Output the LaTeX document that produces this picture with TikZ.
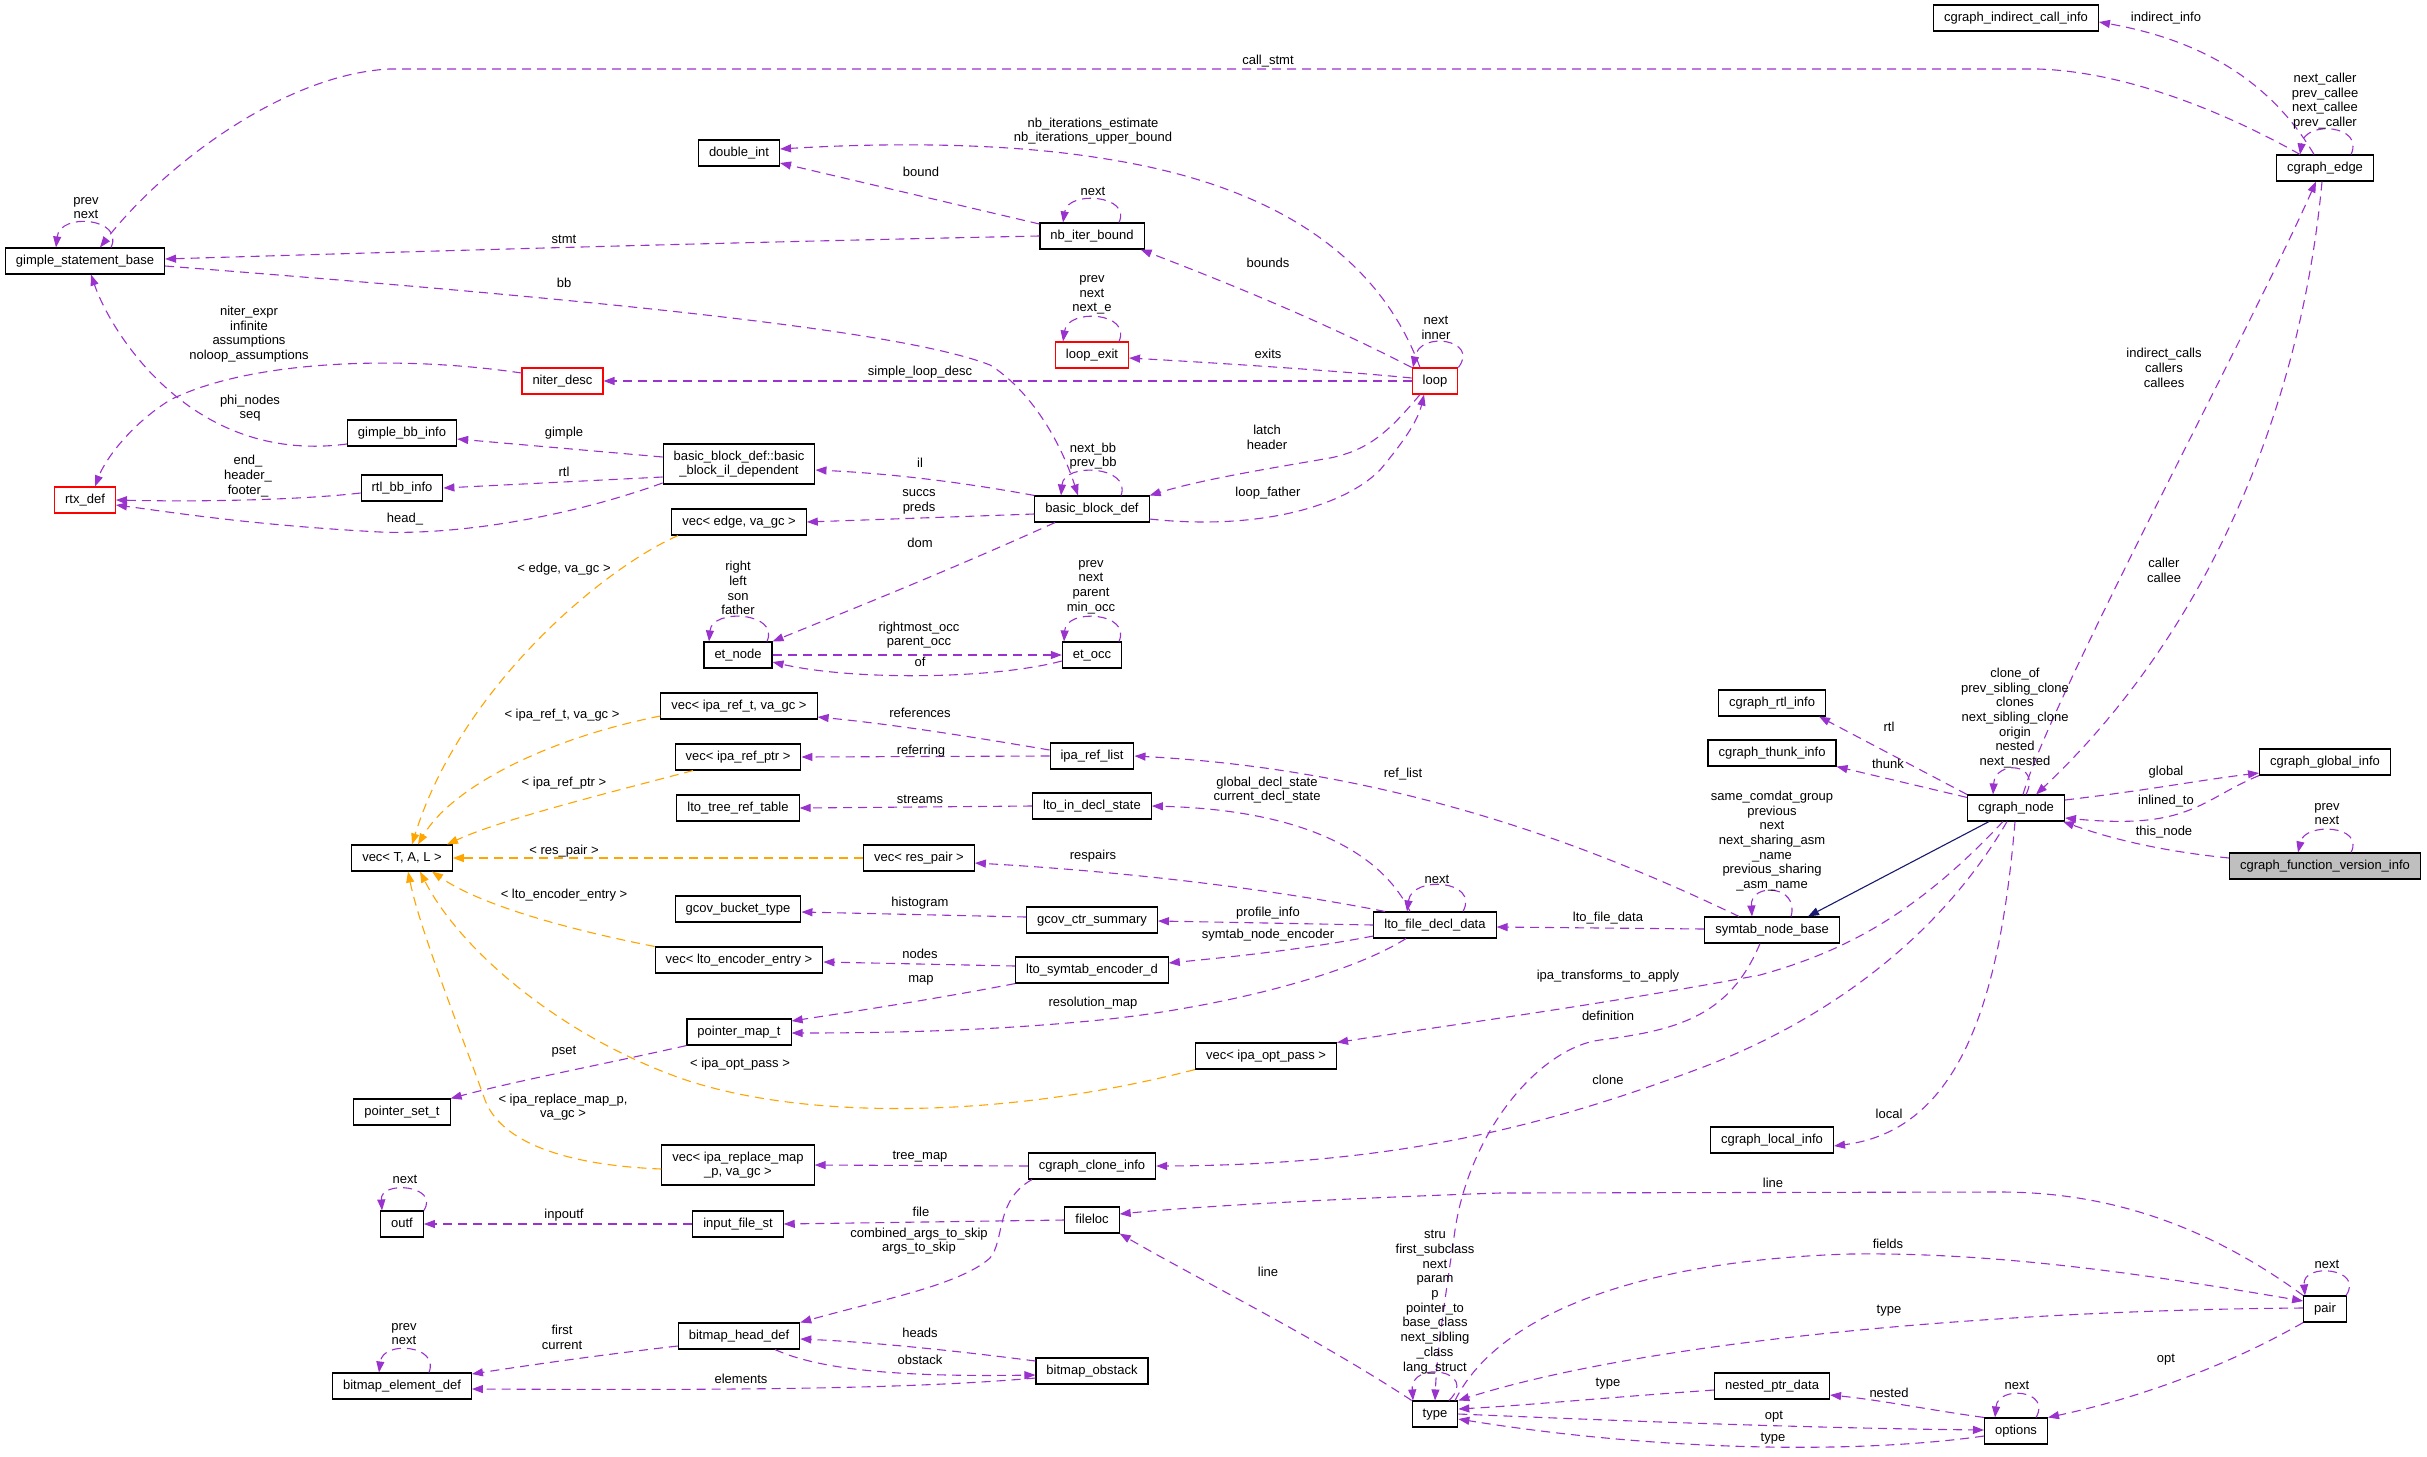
\documentclass[tikz,border=0pt]{standalone}
\usepackage{fontspec}
\setmainfont{Liberation Sans}
\usetikzlibrary{arrows.meta}
\definecolor{edgepurple}{HTML}{9A32CD}
\definecolor{tmplorange}{HTML}{FFA500}
\definecolor{inhblue}{HTML}{191970}
\definecolor{mainfill}{HTML}{BFBFBF}
\newcommand\dxf{\fontsize{13}{14.7}\selectfont}
\begin{document}
\begin{tikzpicture}[x=1pt,y=-1pt,
  cls/.style={draw=black, line width=1.1pt, fill=white, font=\dxf, inner xsep=10.5pt, inner ysep=0pt, minimum height=26pt, text height=9.5pt, text depth=3pt},
  clstwo/.style={draw=black, line width=1.1pt, fill=white, font=\dxf, inner xsep=10.5pt, inner ysep=3pt, minimum height=40pt, align=center},
  redcls/.style={cls, draw=red},
  maincls/.style={cls, fill=mainfill},
  lbl/.style={font=\dxf, align=center, inner sep=0pt},
  refe/.style={draw=edgepurple, line width=1.1pt, dash pattern=on 9pt off 6pt, -{Triangle[length=11pt,width=8pt]}},
  tmpl/.style={refe, draw=tmplorange},
  inh/.style={draw=inhblue, line width=1.1pt, -{Triangle[length=11pt,width=8pt]}}]
\fill[white] (0,0) rectangle (2427,1456);
\useasboundingbox (0,0) rectangle (2427,1456);

% ---------- nodes ----------
\node[cls] (gsb) at (85,261) {gimple\_statement\_base};
\node[redcls] (niter) at (562.5,381) {niter\_desc};
\node[cls] (gbbinfo) at (402,433) {gimple\_bb\_info};
\node[cls] (rtlbb) at (402,488) {rtl\_bb\_info};
\node[redcls] (rtx) at (85,500) {rtx\_def};
\node[cls] (vecT) at (402,858) {vec< T, A, L >};
\node[cls] (dint) at (739,153) {double\_int};
\node[cls] (nbib) at (1092,236) {nb\_iter\_bound};
\node[redcls] (lexit) at (1092,355) {loop\_exit};
\node[clstwo] (bbil) at (739,464) {basic\_block\_def::basic\\\_block\_il\_dependent};
\node[redcls] (loop) at (1435,381) {loop};
\node[cls] (cgici) at (2016,18) {cgraph\_indirect\_call\_info};
\node[cls] (cgedge) at (2325,168) {cgraph\_edge};
\node[cls] (bbdef) at (1092,509) {basic\_block\_def};
\node[cls] (vecedge) at (739,522) {vec< edge, va\_gc >};
\node[cls] (etnode) at (738,655) {et\_node};
\node[cls] (etocc) at (1092,655) {et\_occ};
\node[cls] (vecreft) at (739,706) {vec< ipa\_ref\_t, va\_gc >};
\node[cls] (reflist) at (1092,756) {ipa\_ref\_list};
\node[cls] (vecrefp) at (738,757) {vec< ipa\_ref\_ptr >};
\node[cls] (ltotree) at (738,808) {lto\_tree\_ref\_table};
\node[cls] (ltoin) at (1092,806) {lto\_in\_decl\_state};
\node[cls] (vecres) at (919,858) {vec< res\_pair >};
\node[cls] (gcovb) at (738,909) {gcov\_bucket\_type};
\node[cls] (gcovs) at (1092,920) {gcov\_ctr\_summary};
\node[cls] (veclto) at (739,960) {vec< lto\_encoder\_entry >};
\node[cls] (ltoenc) at (1092,970) {lto\_symtab\_encoder\_d};
\node[cls] (pmap) at (739,1032) {pointer\_map\_t};
\node[clstwo] (vecrepl) at (738,1165) {vec< ipa\_replace\_map\\\_p, va\_gc >};
\node[cls] (clone) at (1092,1166) {cgraph\_clone\_info};
\node[cls] (ifile) at (738,1224) {input\_file\_st};
\node[cls] (floc) at (1092,1220) {fileloc};
\node[cls] (bhead) at (739,1336) {bitmap\_head\_def};
\node[cls] (bobst) at (1092,1371) {bitmap\_obstack};
\node[cls] (lfdd) at (1435,925) {lto\_file\_decl\_data};
\node[cls] (snb) at (1772,930) {symtab\_node\_base};
\node[cls] (cgrtl) at (1772,703) {cgraph\_rtl\_info};
\node[cls] (cgthunk) at (1772,753) {cgraph\_thunk\_info};
\node[cls] (cgnode) at (2016,808) {cgraph\_node};
\node[cls] (cgglobal) at (2325,762) {cgraph\_global\_info};
\node[maincls] (cgfvi) at (2325,866) {cgraph\_function\_version\_info};
\node[cls] (pset) at (402,1112) {pointer\_set\_t};
\node[cls] (outf) at (402,1224) {outf};
\node[cls] (belem) at (402,1386) {bitmap\_element\_def};
\node[cls] (vecopt) at (1266,1056) {vec< ipa\_opt\_pass >};
\node[cls] (type) at (1435,1414) {type};
\node[cls] (nested) at (1772,1386) {nested\_ptr\_data};
\node[cls] (cglocal) at (1772,1140) {cgraph\_local\_info};
\node[cls] (pair) at (2325,1309) {pair};
\node[cls] (options) at (2016,1431) {options};

% ---------- purple edges ----------
\draw[refe] ([xshift=-25pt]cgedge.north) .. controls (2230,115) and (2130,72) .. (2038,69) -- (389,69) .. controls (280,75) and (160,170) .. ([xshift=15pt]gsb.north);
\draw[refe] ([xshift=26pt]cgedge.north) .. controls (2365,125) and (2305,120) .. ([xshift=-25pt]cgedge.north);
\draw[refe] ([xshift=-11pt]cgedge.north) .. controls (2270,80) and (2200,40) .. ([yshift=-4pt]cgici.east);
\draw[refe] ([xshift=7pt]cgnode.north) .. controls (2050,700) and (2250,330) .. ([xshift=-9pt]cgedge.south);
\draw[refe] ([xshift=-3pt]cgedge.south) .. controls (2300,420) and (2200,640) .. ([xshift=20pt]cgnode.north);
\draw[refe] ([xshift=10pt]cgnode.north) .. controls (2042,762) and (1995,760) .. ([xshift=-23pt]cgnode.north);
\draw[refe] (cgnode.north west) -- ([xshift=-7pt]cgrtl.south east);
\draw[refe] ([yshift=-3pt]cgnode.north west) -- (cgthunk.south east);
\draw[refe] ([yshift=8pt]cgnode.east) .. controls (2150,790) and (2200,780) .. ([yshift=-11pt]cgglobal.west);
\draw[refe] (cgglobal.south west) .. controls (2200,800) and (2190,830) .. ([yshift=-10pt]cgnode.east);
\draw[refe] ([yshift=8pt]cgfvi.west) .. controls (2150,850) and (2100,835) .. ([xshift=-2pt]cgnode.south east);
\draw[refe] ([xshift=26pt]cgfvi.north) .. controls (2365,825) and (2305,822) .. ([xshift=-27pt]cgfvi.north);
\draw[inh] ([xshift=-27pt]cgnode.south) -- ([xshift=36pt]snb.north);
\draw[refe] ([xshift=-13pt]cgnode.south) .. controls (1920,910) and (1850,950) .. (1760,975) .. controls (1600,1005) and (1450,1025) .. (vecopt.north east);
\draw[refe] ([xshift=-9pt]cgnode.south) .. controls (1950,920) and (1850,1010) .. (1706,1066) .. controls (1550,1125) and (1400,1165) .. (clone.east);
\draw[refe] ([xshift=-1pt]cgnode.south) .. controls (2000,1000) and (1960,1130) .. ([yshift=-6pt]cglocal.east);
\draw[refe] ([yshift=1pt]snb.west) -- ([yshift=-2pt]lfdd.east);
\draw[refe] ([xshift=-33pt]snb.north) .. controls (1600,850) and (1400,770) .. (reflist.east);
\draw[refe] ([xshift=19pt]snb.north) .. controls (1800,885) and (1750,882) .. ([xshift=-20pt]snb.north);
\draw[refe] ([xshift=-12pt]snb.south) .. controls (1730,1015) and (1680,1030) .. (1600,1040) .. controls (1540,1048) and (1470,1130) .. (1455,1230) .. controls (1445,1300) and (1437,1350) .. (type.north);

\draw[refe] ([xshift=26pt]gsb.north) .. controls (125,218) and (60,212) .. ([xshift=-29pt]gsb.north);
\draw[refe] (nbib.west) .. controls (700,243) and (400,252) .. ([yshift=2pt]gsb.east);
\draw[refe] ([yshift=-5pt]gsb.east) .. controls (600,300) and (900,330) .. (990,365) .. controls (1030,390) and (1060,440) .. ([xshift=-14pt]bbdef.north);
\draw[refe] ([xshift=29pt]bbdef.north) .. controls (1132,466) and (1064,462) .. ([xshift=-31pt]bbdef.north);
\draw[refe] ([yshift=8pt]niter.west) .. controls (400,355) and (250,360) .. (170,400) .. controls (130,425) and (105,460) .. ([xshift=10pt]rtx.north);
\draw[refe] ([yshift=-11pt]gbbinfo.west) .. controls (190,465) and (110,330) .. ([xshift=6pt]gsb.south);
\draw[refe] ([yshift=7pt]bbil.west) -- ([yshift=-6pt]gbbinfo.east);
\draw[refe] ([yshift=-13pt]bbil.west) -- (rtlbb.east);
\draw[refe] ([yshift=-5pt]rtlbb.west) .. controls (300,500) and (200,502) .. (rtx.east);
\draw[refe] ([yshift=-19pt]bbil.west) .. controls (560,520) and (450,535) .. (380,532) .. controls (250,525) and (170,512) .. ([yshift=-5pt]rtx.east);
\draw[refe] ([xshift=-15pt]loop.north) .. controls (1380,260) and (1280,185) .. (1100,158) .. controls (1000,142) and (880,143) .. ([yshift=4pt]dint.east);
\draw[refe] ([yshift=12pt]nbib.west) -- ([yshift=-10pt]dint.east);
\draw[refe] ([xshift=27pt]nbib.north) .. controls (1132,195) and (1068,190) .. ([xshift=-29pt]nbib.north);
\draw[refe] (loop.north west) .. controls (1320,320) and (1220,280) .. ([xshift=-4pt]nbib.south east);
\draw[refe] ([xshift=27pt]lexit.north) .. controls (1132,312) and (1068,308) .. ([xshift=-29pt]lexit.north);
\draw[refe] ([yshift=3pt]loop.west) .. controls (1330,370) and (1200,362) .. ([yshift=-3pt]lexit.east);
\draw[refe] (loop.west) -- (niter.east);
\draw[refe] (loop.north east) .. controls (1480,340) and (1420,330) .. ([xshift=-22pt]loop.north);
\draw[refe] ([xshift=-15pt]loop.south) .. controls (1390,430) and (1370,450) .. (1330,458) .. controls (1260,470) and (1200,480) .. (bbdef.north east);
\draw[refe] ([yshift=-10pt]bbdef.east) .. controls (1250,530) and (1340,510) .. (1380,470) .. controls (1405,440) and (1418,420) .. ([xshift=-11pt]loop.south);
\draw[refe] (bbdef.north west) .. controls (950,480) and (880,473) .. ([yshift=-6pt]bbil.east);
\draw[refe] ([yshift=-5pt]bbdef.west) -- (vecedge.east);
\draw[refe] ([xshift=-37pt]bbdef.south) .. controls (950,570) and (850,610) .. (etnode.north east);
\draw[refe] ([xshift=29pt]etnode.north) .. controls (780,612) and (712,608) .. ([xshift=-29pt]etnode.north);
\draw[refe] (etnode.east) -- (etocc.west);
\draw[refe] ([yshift=-6pt]etocc.west) .. controls (990,680) and (850,680) .. ([yshift=-7pt]etnode.east);
\draw[refe] ([xshift=27pt]etocc.north) .. controls (1132,612) and (1066,608) .. ([xshift=-28pt]etocc.north);
\draw[refe] ([yshift=6pt]reflist.west) .. controls (950,733) and (880,723) .. ([yshift=-11pt]vecreft.east);
\draw[refe] (reflist.west) -- (vecrefp.east);
\draw[refe] (ltoin.west) -- (ltotree.east);
\draw[refe] ([xshift=-25pt]lfdd.north) .. controls (1380,850) and (1300,810) .. (ltoin.east);
\draw[refe] ([xshift=28pt]lfdd.north) .. controls (1480,880) and (1412,875) .. ([xshift=-28pt]lfdd.north);
\draw[refe] ([xshift=-50pt]lfdd.north) .. controls (1250,885) and (1100,870) .. ([yshift=-5pt]vecres.east);
\draw[refe] (lfdd.west) -- ([yshift=-1pt]gcovs.east);
\draw[refe] ([yshift=-11pt]lfdd.west) .. controls (1300,950) and (1230,957) .. ([yshift=7pt]ltoenc.east);
\draw[refe] ([xshift=-29pt]lfdd.south) .. controls (1340,980) and (1200,1010) .. (1100,1020) .. controls (1000,1030) and (900,1033) .. ([yshift=-1pt]pmap.east);
\draw[refe] ([yshift=3pt]gcovs.west) -- ([yshift=-3pt]gcovb.east);
\draw[refe] ([yshift=4pt]ltoenc.west) -- ([yshift=-2pt]veclto.east);
\draw[refe] (ltoenc.south west) .. controls (930,1000) and (850,1012) .. ([yshift=11pt]pmap.east);
\draw[refe] (pmap.south west) .. controls (600,1065) and (520,1080) .. (pset.north east);
\draw[refe] (clone.west) -- (vecrepl.east);
\draw[refe] ([xshift=-60pt]clone.south) .. controls (995,1200) and (1005,1240) .. (990,1258) .. controls (960,1285) and (880,1300) .. (bhead.north east);
\draw[refe] (floc.west) -- (ifile.east);
\draw[refe] (ifile.west) -- (outf.east);
\draw[refe] (outf.north east) .. controls (440,1185) and (380,1180) .. ([xshift=-20pt]outf.north);
\draw[refe] ([yshift=10pt]bobst.west) .. controls (950,1350) and (870,1342) .. ([yshift=-3pt]bhead.east);
\draw[refe] ([xshift=36pt]bhead.south) .. controls (820,1370) and (900,1377) .. ([yshift=-4pt]bobst.west);
\draw[refe] ([yshift=-7pt]bobst.west) .. controls (900,1390) and (700,1390) .. ([yshift=-3pt]belem.east);
\draw[refe] ([yshift=-10pt]bhead.west) .. controls (600,1355) and (530,1365) .. ([yshift=12pt]belem.east);
\draw[refe] ([xshift=27pt]belem.north) .. controls (440,1345) and (383,1340) .. ([xshift=-23pt]belem.north);
\draw[refe] (pair.north west) .. controls (2200,1220) and (2100,1192) .. (2000,1192) -- (1500,1193) .. controls (1350,1198) and (1200,1206) .. ([yshift=6pt]floc.east);
\draw[refe] (type.north west) .. controls (1320,1340) and (1200,1280) .. (floc.south east);
\draw[refe] ([xshift=14pt]type.north) .. controls (1480,1370) and (1410,1360) .. ([xshift=-22pt]type.north);
\draw[refe] ([xshift=20pt]type.north) .. controls (1500,1310) and (1650,1260) .. (1850,1254) .. controls (2000,1252) and (2150,1275) .. ([yshift=8pt]pair.west);
\draw[refe] ([yshift=1pt]pair.west) .. controls (2000,1310) and (1650,1340) .. (type.north east);
\draw[refe] ([yshift=-4pt]nested.west) .. controls (1600,1398) and (1530,1405) .. ([yshift=5pt]type.east);
\draw[refe] (type.east) .. controls (1600,1420) and (1800,1428) .. ([yshift=1pt]options.west);
\draw[refe] ([yshift=-5pt]options.west) .. controls (1850,1455) and (1650,1450) .. ([yshift=-5pt]type.east);
\draw[refe] (options.north west) .. controls (1930,1410) and (1880,1400) .. ([yshift=-9pt]nested.east);
\draw[refe] ([xshift=20pt]options.north) .. controls (2052,1390) and (1998,1385) .. ([xshift=-21pt]options.north);
\draw[refe] (pair.south west) .. controls (2220,1370) and (2130,1400) .. (options.north east);
\draw[refe] ([xshift=21pt]pair.north) .. controls (2365,1268) and (2302,1262) .. ([xshift=-20pt]pair.north);

% ---------- orange template edges ----------
\draw[tmpl] ([xshift=-61pt]vecedge.south) .. controls (600,570) and (460,690) .. ([xshift=10pt]vecT.north);
\draw[tmpl] ([yshift=-10pt]vecreft.west) .. controls (540,740) and (450,790) .. ([xshift=16pt]vecT.north);
\draw[tmpl] ([xshift=-45pt]vecrefp.south) .. controls (600,795) and (500,820) .. ([xshift=45pt]vecT.north);
\draw[tmpl] (vecres.west) -- (vecT.east);
\draw[tmpl] (veclto.north west) .. controls (570,930) and (480,905) .. ([xshift=30pt]vecT.south);
\draw[tmpl] (vecopt.south west) .. controls (1000,1120) and (800,1120) .. (680,1078) .. controls (560,1035) and (460,950) .. ([xshift=18pt]vecT.south);
\draw[tmpl] ([yshift=-4pt]vecrepl.west) .. controls (560,1165) and (500,1140) .. (485,1100) .. controls (460,1030) and (420,930) .. ([xshift=6pt]vecT.south);

% ---------- labels ----------
\node[lbl] (l1) at (1268,61) {call\_stmt};
\node[lbl] (l2) at (2325,101) {next\_caller\\prev\_callee\\next\_callee\\prev\_caller};
\node[lbl] (l3) at (2166,18) {indirect\_info};
\node[lbl] (l4) at (2164,368) {indirect\_calls\\callers\\callees};
\node[lbl] (l5) at (2164,570) {caller\\callee};
\node[lbl] (l6) at (2015,718) {clone\_of\\prev\_sibling\_clone\\clones\\next\_sibling\_clone\\origin\\nested\\next\_nested};
\node[lbl] (l7) at (1889,727) {rtl};
\node[lbl] (l8) at (1888,764) {thunk};
\node[lbl] (l9) at (2166,772) {global};
\node[lbl] (l10) at (2166,801) {inlined\_to};
\node[lbl] (l11) at (2164,832) {this\_node};
\node[lbl] (l12) at (2327,814) {prev\\next};
\node[lbl] (l13) at (1608,976) {ipa\_transforms\_to\_apply};
\node[lbl] (l14) at (1608,1080) {clone};
\node[lbl] (l15) at (1889,1114) {local};
\node[lbl] (l16) at (1608,918) {lto\_file\_data};
\node[lbl] (l17) at (1403,774) {ref\_list};
\node[lbl] (l18) at (1772,841) {same\_comdat\_group\\previous\\next\\next\_sharing\_asm\\\_name\\previous\_sharing\\\_asm\_name};
\node[lbl] (l19) at (1608,1016) {definition};
\node[lbl] (l20) at (86,208) {prev\\next};
\node[lbl] (l21) at (564,239) {stmt};
\node[lbl] (l22) at (564,283) {bb};
\node[lbl] (l23) at (1093,456) {next\_bb\\prev\_bb};
\node[lbl] (l24) at (249,334) {niter\_expr\\infinite\\assumptions\\noloop\_assumptions};
\node[lbl] (l25) at (250,408) {phi\_nodes\\seq};
\node[lbl] (l26) at (564,433) {gimple};
\node[lbl] (l27) at (564,472) {rtl};
\node[lbl] (l28) at (248,476) {end\_\\header\_\\footer\_};
\node[lbl] (l29) at (405,519) {head\_};
\node[lbl] (l30) at (1093,131) {nb\_iterations\_estimate\\nb\_iterations\_upper\_bound};
\node[lbl] (l31) at (921,172) {bound};
\node[lbl] (l32) at (1093,191) {next};
\node[lbl] (l33) at (1268,263) {bounds};
\node[lbl] (l34) at (1092,295) {prev\\next\\next\_e};
\node[lbl] (l35) at (1268,354) {exits};
\node[lbl] (l36) at (920,372) {simple\_loop\_desc};
\node[lbl] (l37) at (1436,328) {next\\inner};
\node[lbl] (l38) at (1267,437) {latch\\header};
\node[lbl] (l39) at (1268,493) {loop\_father};
\node[lbl] (l40) at (920,463) {il};
\node[lbl] (l41) at (919,502) {succs\\preds};
\node[lbl] (l42) at (920,543) {dom};
\node[lbl] (l43) at (738,588) {right\\left\\son\\father};
\node[lbl] (l44) at (919,635) {rightmost\_occ\\parent\_occ};
\node[lbl] (l45) at (920,662) {of};
\node[lbl] (l46) at (1091,587) {prev\\next\\parent\\min\_occ};
\node[lbl] (l47) at (920,713) {references};
\node[lbl] (l48) at (921,751) {referring};
\node[lbl] (l49) at (920,799) {streams};
\node[lbl] (l50) at (1267,790) {global\_decl\_state\\current\_decl\_state};
\node[lbl] (l51) at (1437,879) {next};
\node[lbl] (l52) at (1093,856) {respairs};
\node[lbl] (l53) at (1268,913) {profile\_info};
\node[lbl] (l54) at (1268,935) {symtab\_node\_encoder};
\node[lbl] (l55) at (1093,1003) {resolution\_map};
\node[lbl] (l56) at (920,903) {histogram};
\node[lbl] (l57) at (920,954) {nodes};
\node[lbl] (l58) at (921,980) {map};
\node[lbl] (l59) at (564,1052) {pset};
\node[lbl] (l60) at (920,1157) {tree\_map};
\node[lbl] (l61) at (919,1241) {combined\_args\_to\_skip\\args\_to\_skip};
\node[lbl] (l62) at (921,1212) {file};
\node[lbl] (l63) at (564,1215) {inpoutf};
\node[lbl] (l64) at (405,1179) {next};
\node[lbl] (l65) at (920,1333) {heads};
\node[lbl] (l66) at (920,1360) {obstack};
\node[lbl] (l67) at (741,1379) {elements};
\node[lbl] (l68) at (562,1337) {first\\current};
\node[lbl] (l69) at (404,1334) {prev\\next};
\node[lbl] (l70) at (1773,1183) {line};
\node[lbl] (l71) at (1268,1272) {line};
\node[lbl] (l72) at (1435,1302) {stru\\first\_subclass\\next\\param\\p\\pointer\_to\\base\_class\\next\_sibling\\\_class\\lang\_struct};
\node[lbl] (l73) at (1888,1244) {fields};
\node[lbl] (l74) at (1889,1311) {type};
\node[lbl] (l75) at (1608,1384) {type};
\node[lbl] (l76) at (1774,1417) {opt};
\node[lbl] (l77) at (1773,1439) {type};
\node[lbl] (l78) at (1889,1393) {nested};
\node[lbl] (l79) at (2017,1385) {next};
\node[lbl] (l80) at (2166,1360) {opt};
\node[lbl] (l81) at (2327,1264) {next};
\node[lbl] (o1) at (564,569) {< edge, va\_gc >};
\node[lbl] (o2) at (562,715) {< ipa\_ref\_t, va\_gc >};
\node[lbl] (o3) at (564,783) {< ipa\_ref\_ptr >};
\node[lbl] (o4) at (564,851) {< res\_pair >};
\node[lbl] (o5) at (564,895) {< lto\_encoder\_entry >};
\node[lbl] (o6) at (740,1064) {< ipa\_opt\_pass >};
\node[lbl] (o7) at (563,1107) {< ipa\_replace\_map\_p,\\va\_gc >};
\end{tikzpicture}
\end{document}
